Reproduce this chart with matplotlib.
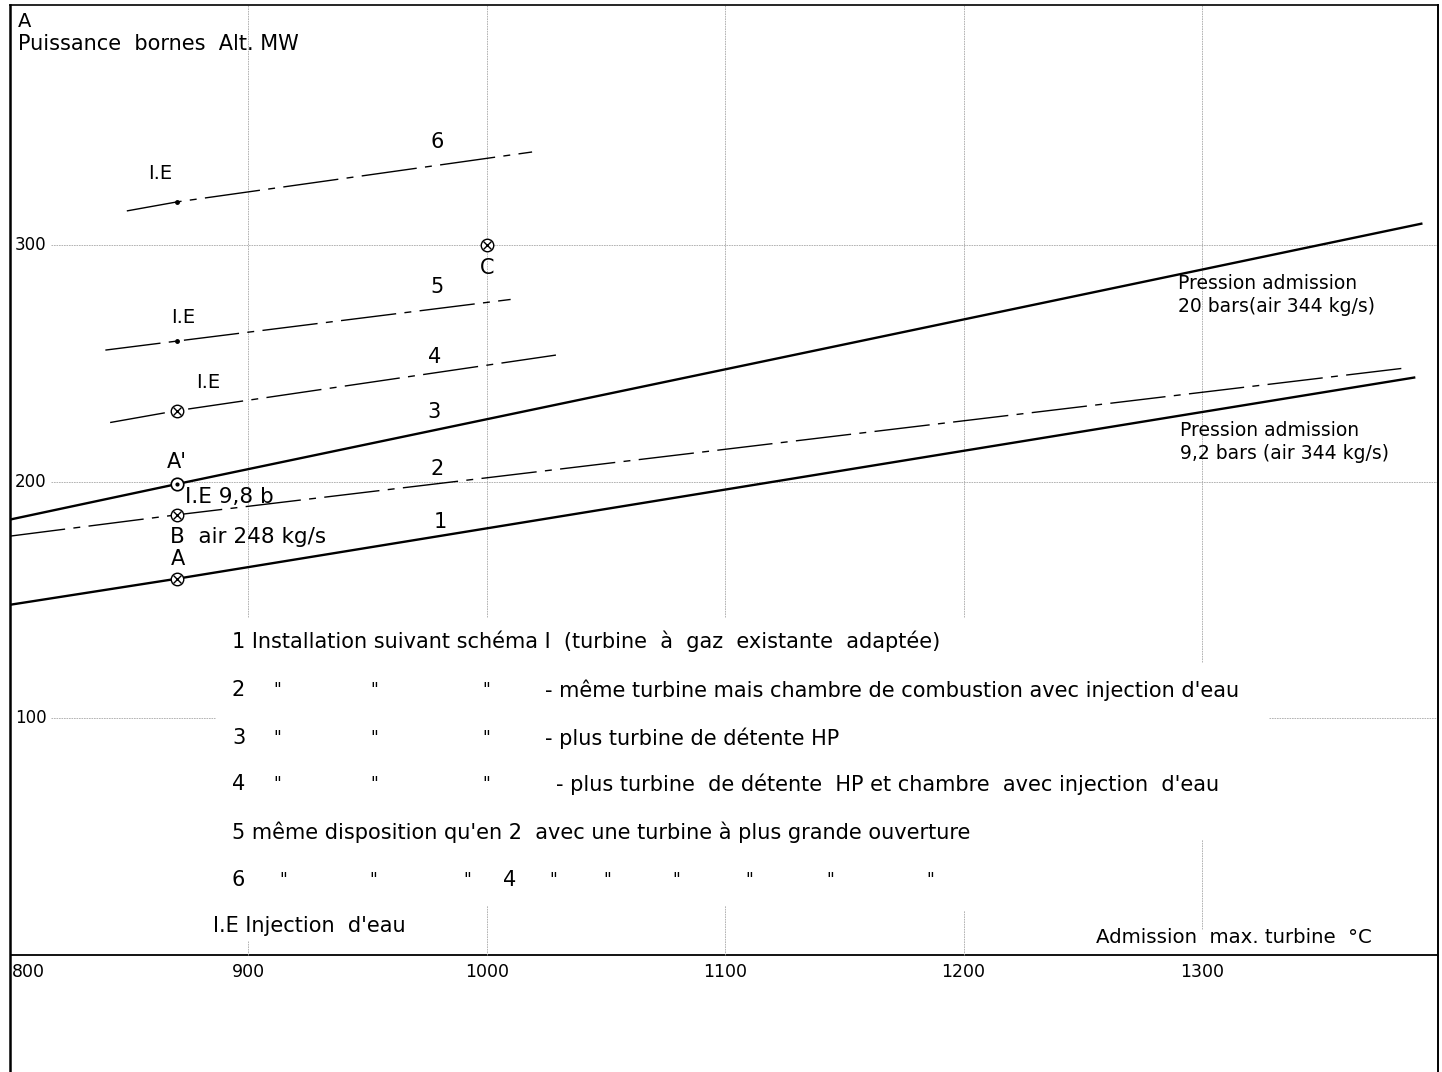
import matplotlib
matplotlib.use('Agg')
import matplotlib.pyplot as plt

plt.rcParams['font.family'] = ['DejaVu Sans']

# curves: admission temperature (°C) -> power at terminals (MW)
c1_x = [800, 870, 1389]
c1_y = [148, 159, 244]
c2_x = [800, 870, 1385]
c2_y = [177, 186, 248]
c3_x = [800, 870, 1392]
c3_y = [184, 199, 309]
c4_x = [842, 870, 1029]
c4_y = [225, 230, 253.5]
c5_x = [840, 870, 1010]
c5_y = [255.6, 259.4, 277]
c6_x = [849, 870, 1019]
c6_y = [314.4, 318.2, 339.3]

# marked operating points
cross_x = [870, 870, 870, 1000]      # A, B, 4 I.E, C
cross_y = [159, 186, 230, 300]
dot_x = [870, 870]                   # I.E on 5 and 6
dot_y = [259.4, 318.2]
aprime_x = [870]
aprime_y = [199]

xticks = [800, 900, 1000, 1100, 1200, 1300]
yticks = [100, 200, 300]

legend_rows = [
    "1 Installation suivant schéma I  (turbine  à  gaz  existante  adaptée)",
    "- même turbine mais chambre de combustion avec injection d'eau",
    "- plus turbine de détente HP",
    "- plus turbine  de détente  HP et chambre  avec injection  d'eau",
    "5 même disposition qu'en 2  avec une turbine à plus grande ouverture",
]

fig = plt.figure(figsize=(14.42, 10.72), dpi=100)
ax = fig.add_axes([10 / 1442, 0, 1428 / 1442, 1067 / 1072])
ax.set_xlim(800, 1399)
ax.set_ylim(-49.4, 401.4)
ax.set_xticks([])
ax.set_yticks([])
ax.spines['bottom'].set_visible(False)
ax.spines['left'].set_linewidth(1.8)
ax.spines['right'].set_linewidth(1.4)
ax.spines['top'].set_linewidth(1.2)
ax.axhline(0, color='black', lw=1.3)

# grid (broken, as on the drawing)
gkw = dict(color='#a8a8a8', lw=0.6, linestyles=(0, (2, 1)))
ax.hlines([200, 300], 817, 1399, **gkw)
ax.hlines([100, 100], [817, 1328], [886, 1399], **gkw)
ax.vlines([900, 1000, 1100, 1200], 143, 401.4, **gkw)
ax.vlines(1300, 124, 401.4, **gkw)
ax.vlines([900, 1000, 1100, 1200, 1300], [0, 0, 0, 0, 11], [6, 21, 21, 19, 49], **gkw)

dashdot = (0, (40, 6, 5, 6))
ax.plot(c1_x, c1_y, color='black', lw=1.7)
ax.plot(c3_x, c3_y, color='black', lw=1.7)
for xs, ys in [(c2_x, c2_y), (c4_x, c4_y), (c5_x, c5_y), (c6_x, c6_y)]:
    ax.plot(xs, ys, color='black', lw=1.0, linestyle=dashdot)

ax.plot(cross_x, cross_y, 'o', ms=9, mfc='white', mec='black', mew=1.0, zorder=5)
ax.plot(cross_x, cross_y, 'x', ms=5.5, color='black', mew=1.0, zorder=6)
ax.plot(aprime_x, aprime_y, 'o', ms=9, mfc='white', mec='black', mew=1.2, zorder=5)
ax.plot(aprime_x, aprime_y, '.', ms=4, color='black', zorder=6)
ax.plot(dot_x, dot_y, 'o', ms=2.5, color='black', zorder=6)

fs = 15
wb = dict(facecolor='white', edgecolor='none', pad=1)

ax.text(803.4, 394.5, "A", fontsize=14, va='center', ha='left')
ax.text(803.4, 385, "Puissance  bornes  Alt. MW", fontsize=15, va='center', ha='left')
for v in yticks:
    ax.text(802, v, str(v), fontsize=12, va='center', ha='left', bbox=wb)
for v in xticks:
    ha = 'left' if v == 800 else 'center'
    ax.text(v + (0.8 if v == 800 else 0), -7.2, str(v), fontsize=12.5, va='center', ha=ha)

# curve labels
for lab, x, y in [("6", 979, 343.5), ("5", 979, 282.3), ("4", 978, 252.7),
                  ("3", 978, 229.4), ("2", 979, 205.3), ("1", 980.4, 183.0)]:
    ax.text(x, y, lab, fontsize=fs, ha='center', va='center')
for x, y in [(862.9, 330.4), (872.6, 269.2), (883.1, 241.7)]:
    ax.text(x, y, "I.E", fontsize=14, ha='center', va='center')
ax.text(1000, 290.2, "C", fontsize=fs, ha='center', va='center')
ax.text(870, 208.5, "A'", fontsize=fs, ha='center', va='center')
ax.text(873.4, 193.5, "I.E 9,8 b", fontsize=15.5, ha='left', va='center')
ax.text(867.1, 176.6, "B  air 248 kg/s", fontsize=15.5, ha='left', va='center')
ax.text(870.5, 167.2, "A", fontsize=fs, ha='center', va='center')
ax.text(1289.9, 278.9, "Pression admission\n20 bars(air 344 kg/s)", fontsize=13.5,
        ha='left', va='center', linespacing=1.3)
ax.text(1290.8, 216.8, "Pression admission\n9,2 bars (air 344 kg/s)", fontsize=13.5,
        ha='left', va='center', linespacing=1.3)

# legend block
ditto = '"'
ax.text(893.1, 132.7, legend_rows[0], fontsize=fs, ha='left', va='center')
for i, (num, y) in enumerate([("2", 112.0), ("3", 91.7), ("4", 72.3)]):
    ax.text(893.1, y, num, fontsize=fs, ha='left', va='center')
    for x in [912.0, 952.7, 999.7]:
        ax.text(x, y, ditto, fontsize=12, ha='center', va='center')
    ax.text(1029.0 if num == "4" else 1024.4, y, legend_rows[i + 1],
            fontsize=fs, ha='left', va='center')
ax.text(893.1, 52.0, legend_rows[4], fontsize=fs, ha='left', va='center')
ax.text(893.1, 31.7, "6", fontsize=fs, ha='left', va='center')
for x in [914.5, 952.3, 991.7, 1027.8, 1050.4, 1079.4, 1110, 1144, 1185.9]:
    ax.text(x, 31.7, ditto, fontsize=12, ha='center', va='center')
ax.text(1009.7, 31.7, "4", fontsize=fs, ha='center', va='center')
ax.text(885.2, 12.3, "I.E Injection  d'eau", fontsize=fs, ha='left', va='center')
ax.text(1371.3, 7.6, "Admission  max. turbine  °C", fontsize=14.2, ha='right', va='center')

fig.savefig('out.png', dpi=100, facecolor='white')
